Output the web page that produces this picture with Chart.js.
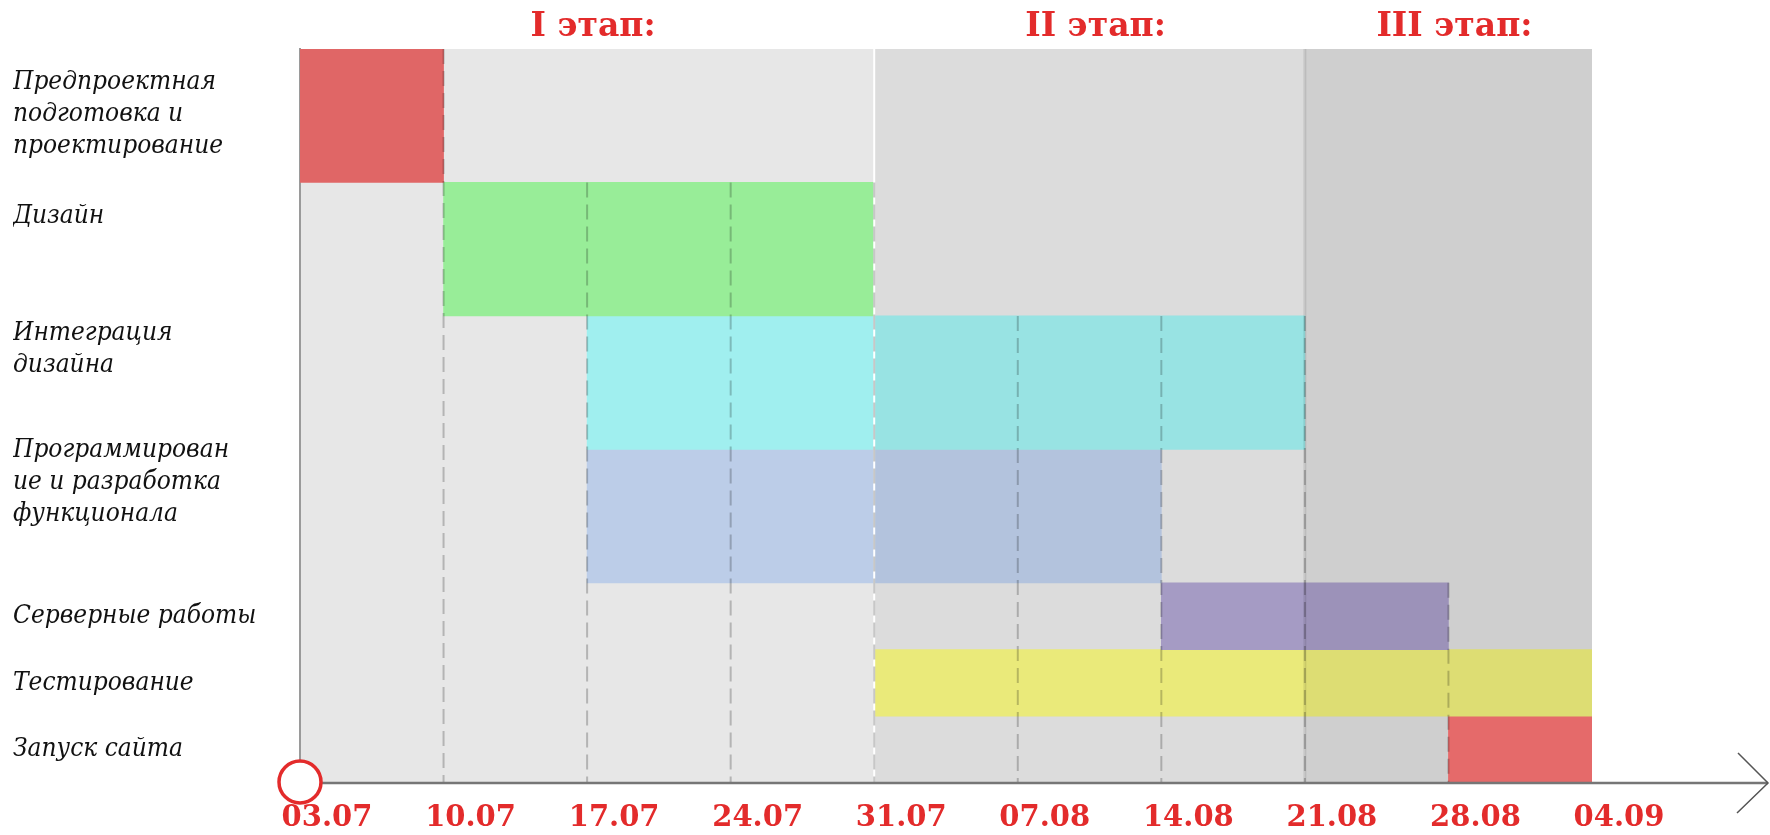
<!DOCTYPE html>
<html>
<head>
<meta charset="utf-8">
<title>Этапы работ</title>
<script src="https://cdn.jsdelivr.net/npm/chart.js@4.4.1/dist/chart.umd.min.js"></script>
<style>
    html, body { margin: 0; padding: 0; background: #fff; }
    #wrap { width: 1770px; height: 835px; }
</style>
</head>
<body>
<div id="wrap"><canvas id="chart" width="1770" height="835"></canvas></div>
<script>
const dates = ["03.07", "10.07", "17.07", "24.07", "31.07", "07.08", "14.08", "21.08", "28.08", "04.09"];

const tasks = [
    ["Предпроектная", "подготовка и", "проектирование"],
    ["Дизайн"],
    ["Интеграция", "дизайна"],
    ["Программирован", "ие и разработка", "функционала"],
    ["Серверные работы"],
    ["Тестирование"],
    ["Запуск сайта"]
];
const taskStart = ["03.07", "10.07", "17.07", "17.07", "14.08", "31.07", "28.08"];
const taskEnd = ["10.07", "31.07", "21.08", "14.08", "28.08", "04.09", "04.09"];

const stages = ["I этап:", "II этап:", "III этап:"];
const stageStart = ["03.07", "31.07", "21.08"];
const stageEnd = ["31.07", "21.08", "04.09"];

// look
const red = "#e32b2b";
const rowSpan = [2, 2, 2, 2, 1, 1, 1];
const labelLead = [2, 0, 0, 0, 0, 0, 0];
const barColors = ["#e06666", "#98ed98", "#a0efef", "#bccde8", "#aea3ce", "#f6f680", "#ff7676"];
const stageShade = [0, 0.048, 0.1];
const stageLine = [null, "#ffffff", "rgba(0,0,0,0.09)"];

const idx = d => dates.indexOf(d);

// every task gets one or two slots on the y axis
const slots = [];
const slotTask = [];
const firstSlot = [];
tasks.forEach((t, i) => {
    firstSlot.push(slots.length);
    for (let k = 0; k < rowSpan[i]; k++) {
        slotTask.push(i);
        slots.push("s" + slots.length);
    }
});

const datasets = tasks.map((t, i) => ({
    label: t.join(" "),
    data: slots.filter((s, j) => slotTask[j] === i)
        .map(s => ({ x: [idx(taskStart[i]), idx(taskEnd[i])], y: s })),
    backgroundColor: barColors[i],
    borderWidth: 0,
    barPercentage: 1,
    categoryPercentage: 1,
    grouped: false
}));

const slotTop = (y, j) => {
    const h = y.getPixelForValue(1) - y.getPixelForValue(0);
    return y.getPixelForValue(j) - h / 2;
};

const stagePlugin = {
    id: "stages",
    beforeDraw(chart) {
        const { ctx, chartArea: a } = chart;
        ctx.save();
        ctx.fillStyle = "#e7e7e7";
        ctx.fillRect(a.left, a.top, a.right - a.left, a.bottom - a.top);
        ctx.restore();
    },
    afterDatasetsDraw(chart) {
        const { ctx, chartArea: a, scales: { x, y } } = chart;
        ctx.save();
        // darker shade for later stages
        stages.forEach((s, i) => {
            if (!stageShade[i]) return;
            const x0 = x.getPixelForValue(idx(stageStart[i]));
            const x1 = x.getPixelForValue(idx(stageEnd[i]));
            ctx.fillStyle = "rgba(0,0,0," + stageShade[i] + ")";
            ctx.fillRect(x0, a.top, x1 - x0, a.bottom - a.top);
        });
        stages.forEach((s, i) => {
            if (!stageLine[i]) return;
            const px = x.getPixelForValue(idx(stageStart[i]));
            ctx.strokeStyle = stageLine[i];
            ctx.lineWidth = i === 1 ? 2 : 3;
            ctx.beginPath();
            ctx.moveTo(px, a.top);
            ctx.lineTo(px, a.bottom);
            ctx.stroke();
        });
        // week lines start at the first bar that reaches them
        ctx.strokeStyle = "rgba(0,0,0,0.22)";
        ctx.lineWidth = 2;
        ctx.setLineDash([15, 7]);
        for (let d = 1; d < dates.length - 1; d++) {
            const t = tasks.findIndex((tk, i) => idx(taskStart[i]) <= d && d <= idx(taskEnd[i]));
            if (t < 0) continue;
            const px = x.getPixelForValue(d);
            ctx.beginPath();
            ctx.moveTo(px, slotTop(y, firstSlot[t]));
            ctx.lineTo(px, a.bottom);
            ctx.stroke();
        }
        ctx.restore();
    },
    afterDraw(chart) {
        const { ctx, chartArea: a, scales: { x } } = chart;
        const end = chart.width - 2;
        ctx.save();
        // time axis with arrow
        ctx.strokeStyle = "#767676";
        ctx.lineWidth = 2.5;
        ctx.beginPath();
        ctx.moveTo(a.left, a.bottom);
        ctx.lineTo(end, a.bottom);
        ctx.stroke();
        ctx.lineWidth = 1.5;
        ctx.strokeStyle = "#555";
        ctx.beginPath();
        ctx.moveTo(end - 30, a.bottom - 30);
        ctx.lineTo(end, a.bottom);
        ctx.lineTo(end - 31, a.bottom + 30);
        ctx.stroke();
        // start marker
        ctx.beginPath();
        ctx.arc(x.getPixelForValue(0), a.bottom - 1, 21, 0, Math.PI * 2);
        ctx.fillStyle = "#fff";
        ctx.fill();
        ctx.strokeStyle = red;
        ctx.lineWidth = 3.5;
        ctx.stroke();
        // stage titles
        ctx.fillStyle = red;
        ctx.font = "bold 33px 'DejaVu Serif'";
        ctx.textAlign = "center";
        ctx.textBaseline = "alphabetic";
        stages.forEach((s, i) => {
            const cx = (x.getPixelForValue(idx(stageStart[i])) + x.getPixelForValue(idx(stageEnd[i]))) / 2;
            ctx.fillText(s, cx + 6, a.top - 13);
        });
        ctx.restore();
    }
};

new Chart(document.getElementById("chart"), {
    type: "bar",
    data: { labels: slots, datasets: datasets },
    options: {
        indexAxis: "y",
        responsive: false,
        animation: false,
        devicePixelRatio: 1,
        layout: { padding: { left: 13, top: 49, right: 178, bottom: 0 } },
        plugins: { legend: { display: false }, tooltip: { enabled: false } },
        scales: {
            x: {
                type: "linear",
                min: 0,
                max: dates.length - 1,
                grid: { display: false, drawTicks: false },
                border: { display: false },
                afterFit: s => { s.height = 52; },
                ticks: {
                    stepSize: 1,
                    maxRotation: 0,
                    autoSkip: false,
                    labelOffset: 27,
                    padding: 18,
                    color: red,
                    font: { family: "DejaVu Serif", size: 29, weight: "bold" },
                    callback: v => dates[v]
                }
            },
            y: {
                type: "category",
                grid: { display: false, drawTicks: false },
                border: { display: true, color: "#9a9a9a", width: 2 },
                afterFit: s => {
                    s.width = 287;
                    s.paddingTop = 0;
                    s.paddingBottom = 0;
                },
                ticks: {
                    autoSkip: false,
                    crossAlign: "far",
                    padding: 0,
                    color: "#111",
                    font: { family: "'DejaVu Serif Condensed', 'DejaVu Serif'", size: 26, style: "italic", lineHeight: 1.23 },
                    callback: (v, j) => {
                        const t = slotTask[j];
                        if (firstSlot[t] !== j) return "";
                        return Array(labelLead[t]).fill("").concat(tasks[t]);
                    }
                }
            }
        }
    },
    plugins: [stagePlugin]
});
</script>
</body>
</html>
